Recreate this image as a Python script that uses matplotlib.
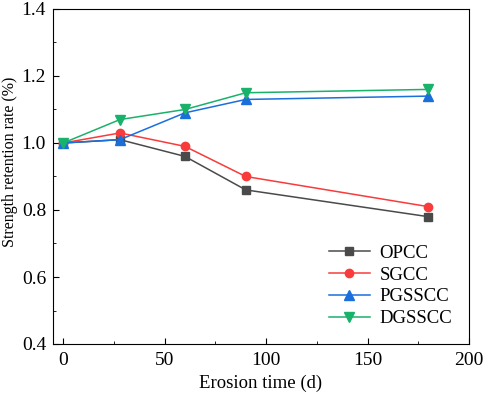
import numpy as np
import matplotlib.pyplot as plt
from matplotlib.ticker import MultipleLocator

plt.rcParams['font.family'] = ['Liberation Serif', 'DejaVu Serif']

# Data
days   = [0, 28, 60, 90, 180]
opcc   = [1.00, 1.01, 0.96, 0.86, 0.78]
sgcc   = [1.00, 1.03, 0.99, 0.90, 0.81]
pgsscc = [1.00, 1.01, 1.09, 1.13, 1.14]
dgsscc = [1.00, 1.07, 1.10, 1.15, 1.16]

fig = plt.figure(figsize=(4.84, 3.94), dpi=100)
ax = fig.add_axes([53/484, 50/394, 416/484, 335/394])

ax.plot(days, opcc, color='#4a4a4a', marker='s', ms=5.5, lw=1.1, label='OPCC')
ax.plot(days, sgcc, color='#f83c3c', marker='o', ms=6, lw=1.1, label='SGCC')
ax.plot(days, pgsscc, color='#1a6fdc', marker='^', ms=6.5, lw=1.1, label='PGSSCC')
ax.plot(days, dgsscc, color='#19b26b', marker='v', ms=6.5, lw=1.1, label='DGSSCC')

ax.set_xlim(-5, 200)
ax.set_ylim(0.4, 1.4)
ax.xaxis.set_major_locator(MultipleLocator(50))
ax.xaxis.set_minor_locator(MultipleLocator(25))
ax.yaxis.set_major_locator(MultipleLocator(0.2))
ax.yaxis.set_minor_locator(MultipleLocator(0.1))
ax.yaxis.set_major_formatter(plt.FormatStrFormatter('%.1f'))
ax.tick_params(which='both', direction='in', top=False, right=False, labelsize=14)
ax.tick_params(which='major', length=4)
ax.tick_params(which='minor', length=2.5)
ax.tick_params(axis='x', which='major', pad=6)
ax.tick_params(axis='y', which='major', pad=5)

ax.set_xlabel('Erosion time (d)', fontsize=13.5)
ax.set_ylabel('Strength retention rate (%)', fontsize=11.5)
ax.xaxis.set_label_coords(0.5, -0.092)
ax.yaxis.set_label_coords(-0.085, 0.543)

ax.legend(loc='lower right', frameon=False, fontsize=13.5, handlelength=2.2,
          labelspacing=0.25, borderaxespad=0.5, handletextpad=0.5)

fig.savefig('out.png', dpi=100)
